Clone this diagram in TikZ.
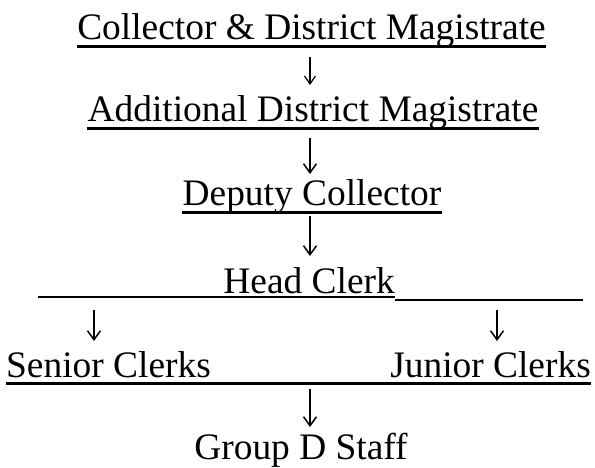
\documentclass[tikz,border=0pt]{standalone}
\usepackage{fontspec}
\setmainfont{Liberation Serif}
\usetikzlibrary{arrows.meta}

\begin{document}
\begin{tikzpicture}[
    x=1pt, y=1pt,
    post/.style={anchor=base, inner sep=0pt, font=\fontsize{37.4}{40}\selectfont},
    rule/.style={line width=2.3pt},
    thin rule/.style={line width=1.5pt},
    down/.style={line width=1.5pt, -{Straight Barb[length=9pt, width=13pt, line width=1.5pt]}},
    small down/.style={line width=1.2pt, -{Straight Barb[length=8pt, width=11pt, line width=1.2pt]}}
]
\useasboundingbox (0,0) rectangle (595,-468);

% Posts
\node[post] (cdm) at (311.5,-40) {Collector \& District Magistrate};
\node[post] (adm) at (313,-122) {Additional District Magistrate};
\node[post] (dc) at (312,-206) {Deputy Collector};
\node[post, anchor=base east] (hc) at (395,-293) {Head Clerk};
\node[post, anchor=base west] (sc) at (6,-377) {Senior Clerks};
\node[post, anchor=base east] (jc) at (591,-377) {Junior Clerks};
\node[post] (gd) at (301,-459) {Group D Staff};

% Underlines
\draw[rule] ([yshift=-6.5]cdm.base west) -- ([yshift=-6.5]cdm.base east);
\draw[rule] ([yshift=-6.5]adm.base west) -- ([yshift=-6.5]adm.base east);
\draw[rule] ([yshift=-6.5]dc.base west) -- ([yshift=-6.5]dc.base east);
\coordinate (hl) at (38,-297);
\coordinate (hr) at (583,-300);
\draw[rule] (hl) -- (hl -| hc.base east);
\draw[thin rule] (hr -| hc.base east) -- (hr);
\draw[rule] ([yshift=-6.5]sc.base west) -- ([yshift=-6.5]jc.base east);

% Arrows
\draw[small down] ([xshift=-1.5, yshift=-17]cdm.base) -- ([xshift=-3, yshift=37]adm.base);
\draw[down] ([xshift=-3, yshift=-16]adm.base) -- ([xshift=-2, yshift=32]dc.base);
\draw[down] ([yshift=-10]dc.base -| 310,0) -- ([yshift=37]hc.base -| 310,0);
\draw[down] ([yshift=-13]hl -| 94,0) -- ([yshift=36]sc.base -| 94,0);
\draw[down] ([yshift=-10]hr -| 497,0) -- ([yshift=36]jc.base -| 497,0);
\draw[down] ([yshift=-12]sc.base -| 310,0) -- ([yshift=32]gd.base -| 310,0);

\end{tikzpicture}
\end{document}
